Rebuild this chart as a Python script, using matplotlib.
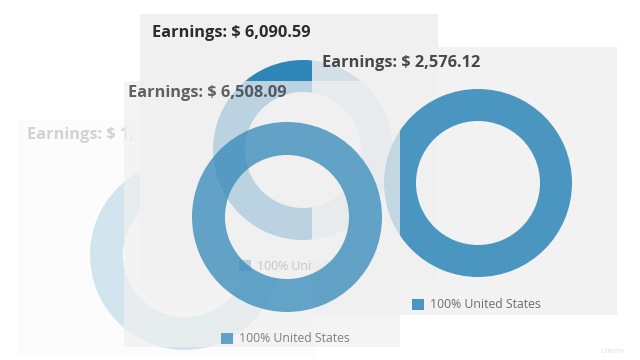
# Overlapping "earnings" donut cards (frame from a slide transition)
import matplotlib
matplotlib.use("Agg")
import matplotlib.pyplot as plt

# -----------------------------
# Data
# -----------------------------
earnings = ["$ 1,", "$ 6,090.59", "$ 6,508.09", "$ 2,576.12"]
country = ["United States", "United States", "United States", "United States"]
share = [100, 100, 100, 100]

# -----------------------------
# Layout (pixels, 640x360 canvas), back to front: A, B, D, C
# -----------------------------
W, H = 640, 360
card_box = [(17, 119, 300, 238), (140, 14, 298, 266),
            (124, 81, 276, 266), (312, 47, 305, 268)]   # left, top, width, height
ring_center = [(185, 255), (303, 150), (287, 217), (478, 183)]
ring_outer = [95, 90, 95, 94]
ring_inner = [62, 58, 62, 62]
title_pos = [(27, 135), (152, 33), (128, 93), (322, 63)]
legend_pos = [None, (239, 266), (221, 339), (412, 305)]   # card A's legend is off-canvas
card_alpha = [0.2, 1.0, 0.73, 0.85]
card_z = [1, 2, 4, 3]

ring_color = "#2e86b8"
card_bg = "#f0f0f0"
title_color = "#2b2b2b"
legend_color = "#555555"

fig = plt.figure(figsize=(6.4, 3.6), dpi=100)
fig.patch.set_facecolor("white")

for i in range(len(earnings)):
    l, t, w, h = card_box[i]
    a = card_alpha[i]
    ax = fig.add_axes([l / W, 1 - (t + h) / H, w / W, h / H], zorder=card_z[i])
    ax.patch.set_facecolor(card_bg)
    ax.patch.set_alpha(a)

    cx, cy = ring_center[i]
    R, r = ring_outer[i], ring_inner[i]
    wedges, _ = ax.pie([share[i]], colors=[ring_color], radius=R,
                       center=(cx - l, cy - t), startangle=90, frame=True,
                       wedgeprops=dict(width=R - r, linewidth=0, alpha=a))

    ax.set_xlim(0, w)
    ax.set_ylim(h, 0)
    ax.set_aspect("equal", adjustable="box")
    ax.set_xticks([])
    ax.set_yticks([])
    for s in ax.spines.values():
        s.set_visible(False)

    tx, ty = title_pos[i]
    ax.text(tx - l, ty - t, "Earnings: " + earnings[i], fontsize=11.8,
            fontweight="bold", family="Open Sans", color=title_color,
            alpha=a, ha="left", va="center")

    if legend_pos[i] is None:
        continue
    lx, ly = legend_pos[i]
    leg = ax.legend(wedges, [f"{share[i]}% {country[i]}"], loc="center left",
                    bbox_to_anchor=(lx - l, ly - t), bbox_transform=ax.transData,
                    frameon=False, handlelength=0.95, handleheight=0.95,
                    handletextpad=0.55, borderpad=0, borderaxespad=0,
                    prop={"family": "Open Sans", "size": 8.8})
    for txt in leg.get_texts():
        txt.set_color(legend_color)
        txt.set_alpha(a)

fig.text(613 / W, 1 - 351 / H, "Udemy", fontsize=5, color="#e2e2e2",
         ha="center", va="center")

fig.savefig("out.png", dpi=100)
